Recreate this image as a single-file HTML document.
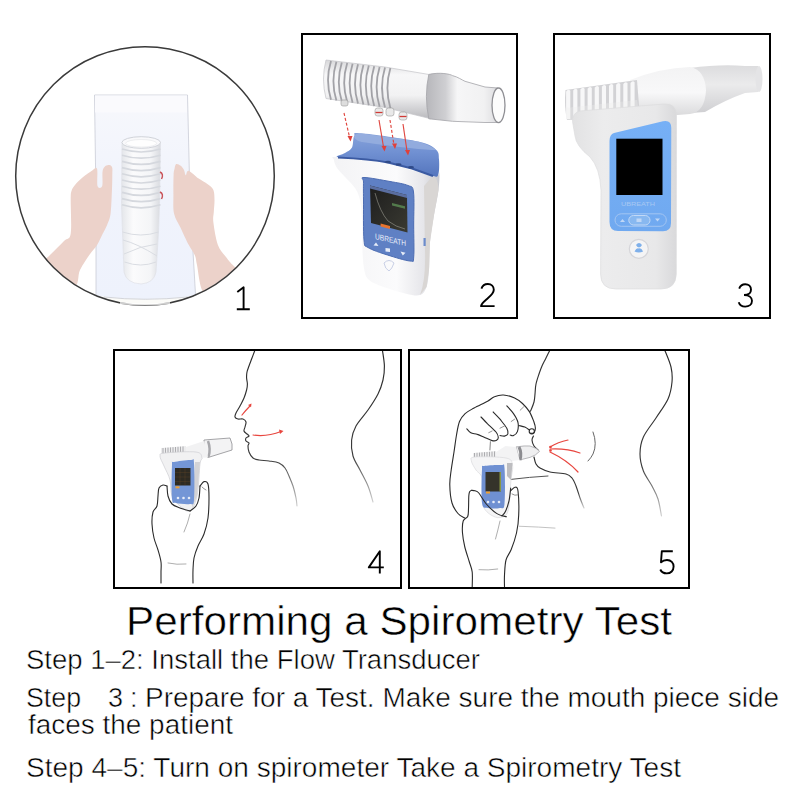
<!DOCTYPE html>
<html><head><meta charset="utf-8">
<style>
html,body{margin:0;padding:0;background:#fff;width:800px;height:800px;overflow:hidden}
svg{position:absolute;left:0;top:0}
text{font-family:"Liberation Sans",sans-serif;fill:#000;stroke:#fff;stroke-width:0.5px}
</style></head><body>
<svg width="800" height="800" viewBox="0 0 800 800">
<!-- PANEL 1 -->
<defs>
  <linearGradient id="paperg" x1="0" x2="0" y1="95" y2="300" gradientUnits="userSpaceOnUse"><stop offset="0" stop-color="#f7f8fc"/><stop offset="0.5" stop-color="#f0f3fc"/><stop offset="1" stop-color="#eef2fc"/></linearGradient>
  <clipPath id="c1"><circle cx="145" cy="176" r="129"/></clipPath>
  <linearGradient id="tubeg" x1="0" x2="1" y1="0" y2="0">
    <stop offset="0" stop-color="#e4e6ea"/><stop offset="0.3" stop-color="#fbfbfc"/><stop offset="0.75" stop-color="#f4f5f7"/><stop offset="1" stop-color="#d9dbe0"/>
  </linearGradient>
</defs>
<g clip-path="url(#c1)">
  <!-- paper -->
  <path d="M94.5 95 L187.5 95 L190 200 L197 320 L96 320 L96 200 Z" fill="url(#paperg)" stroke="#c9ccd6" stroke-width="0.8"/>
  <path d="M100 296 Q145 302 192 296 L200 320 L90 320 Z" fill="#fbfbf8"/>
  <path d="M104 297 Q145 301.5 188 297" fill="none" stroke="#c8cad2" stroke-width="0.8"/>
  <rect x="95" y="95.5" width="92" height="17" fill="#fafafd"/>
  <!-- transducer -->
  <path d="M122 142 L121.5 205 L122.5 232 L124 272 Q126 283 141 284 Q154 283 156 272 L158.5 232 L159.5 205 L160.5 142 Z" fill="url(#tubeg)" stroke="#dfe1e6" stroke-width="0.7"/>
  <g fill="none" stroke="#d5d8de" stroke-width="1.7"><path d="M122 149.0 Q141 155.0 160.5 149.0"/><path d="M122 155.2 Q141 161.2 160.5 155.2"/><path d="M122 161.4 Q141 167.4 160.5 161.4"/><path d="M122 167.6 Q141 173.6 160.5 167.6"/><path d="M122 173.8 Q141 179.8 160.5 173.8"/><path d="M122 180.0 Q141 186.0 160.5 180.0"/><path d="M122 186.2 Q141 192.2 160.5 186.2"/><path d="M122 192.4 Q141 198.4 160.5 192.4"/><path d="M122 198.6 Q141 204.6 160.5 198.6"/><path d="M122 204.8 Q141 210.8 160.5 204.8"/></g>
  <ellipse cx="141.2" cy="142.5" rx="19.3" ry="5.8" fill="#f9f9fb" stroke="#d0d3d9" stroke-width="1"/>
  <ellipse cx="141.2" cy="143.3" rx="15.5" ry="3.8" fill="#fefefe" stroke="#e2e4e8" stroke-width="0.6"/>
  <g fill="none" stroke="#d9dce2" stroke-width="1">
    <path d="M122.5 232 Q141 238 158.5 232"/>
    <path d="M123 240 Q138 244 157 256"/>
    <path d="M124 254 Q140 246 157 244"/>
    <path d="M124.5 262 Q141 268 156 262"/>
  </g>
  <path d="M160 172 q4 2 1.5 7" fill="none" stroke="#c9545a" stroke-width="1.4"/>
  <path d="M160 192 q4 2 1.5 7" fill="none" stroke="#c9545a" stroke-width="1.4"/>
  <!-- left hand -->
  <path d="M30.0 275.0 C33.3 267.5 44.3 260.7 50.0 255.0 C55.7 249.3 60.5 244.6 64.0 241.0 C67.5 237.4 69.6 240.5 70.7 233.7 C71.8 226.9 70.6 207.1 70.7 200.0 C70.8 192.9 70.8 193.4 71.5 191.0 C72.2 188.6 72.8 187.7 74.6 185.4 C76.4 183.2 79.5 180.0 82.5 177.5 C85.5 175.0 90.2 171.6 92.6 170.2 C95.0 168.8 96.3 166.4 97.1 169.0 C97.9 171.6 96.7 183.2 97.5 186.0 C98.3 188.8 101.4 188.3 102.2 186.0 C103.0 183.7 102.1 175.2 102.5 172.0 C102.9 168.8 103.5 168.2 104.5 167.0 C105.5 165.8 107.2 165.1 108.4 165.1 C109.7 165.1 111.3 165.3 112.0 167.0 C112.7 168.7 112.3 171.4 112.3 175.0 C112.3 178.6 112.3 182.3 112.0 188.7 C111.7 195.1 111.4 207.5 110.6 213.5 C109.8 219.5 108.5 221.3 107.2 224.7 C105.9 228.1 104.4 230.3 102.7 233.7 C101.0 237.1 99.3 241.4 97.1 245.0 C94.9 248.6 92.1 250.8 89.3 255.0 C86.5 259.2 82.9 264.2 80.0 270.0 C77.1 275.8 80.3 285.0 72.0 290.0 C63.7 295.0 37.0 302.5 30.0 300.0 C23.0 297.5 26.7 282.5 30.0 275.0 Z" fill="#ecd2ca"/>
  <!-- right hand -->
  <path d="M176.2 164.0 C177.2 163.5 179.4 164.7 180.7 165.7 C182.0 166.7 183.2 168.4 184.0 170.0 C184.8 171.6 185.0 175.1 185.8 175.2 C186.6 175.3 186.4 170.1 188.6 170.7 C190.8 171.3 195.5 176.3 198.7 178.6 C201.9 180.8 205.2 182.3 207.7 184.2 C210.1 186.1 212.3 187.3 213.4 189.9 C214.5 192.5 214.4 196.3 214.5 200.0 C214.6 203.7 214.0 208.2 213.8 212.0 C213.6 215.8 212.7 217.0 213.4 222.5 C214.1 228.0 215.8 239.2 217.9 245.0 C220.0 250.8 223.3 253.5 226.0 257.0 C228.7 260.5 230.0 262.4 234.0 266.2 C238.0 270.0 253.2 273.5 250.0 280.0 C246.8 286.5 223.0 303.2 215.0 305.0 C207.0 306.8 205.2 297.3 202.2 290.6 C199.2 283.9 198.2 270.9 197.0 265.0 C195.8 259.1 196.3 258.7 194.7 255.0 C193.1 251.3 189.8 247.2 187.5 242.7 C185.2 238.2 182.9 233.0 180.7 228.1 C178.4 223.2 175.2 219.1 174.0 213.5 C172.8 207.9 173.5 200.8 173.4 194.4 C173.3 188.0 173.4 179.3 173.6 175.0 C173.8 170.7 174.2 170.3 174.6 168.5 C175.0 166.7 175.2 164.5 176.2 164.0 Z" fill="#ecd2ca"/>
</g>
<circle cx="145" cy="176" r="129.3" fill="none" stroke="#3a3a3a" stroke-width="1.5"/>
<path d="M120 303 Q145 306 170 303" fill="none" stroke="#fff" stroke-width="2.2" opacity="0.75"/>

<!-- PANEL 2 -->
<defs>
  <linearGradient id="t2g" x1="0" x2="0" y1="0" y2="1">
    <stop offset="0" stop-color="#d8d8da"/><stop offset="0.25" stop-color="#f7f7f8"/><stop offset="0.6" stop-color="#f2f2f3"/><stop offset="1" stop-color="#b9b9bd"/>
  </linearGradient>
  <linearGradient id="mp2" x1="428" x2="498" y1="0" y2="0" gradientUnits="userSpaceOnUse">
    <stop offset="0" stop-color="#b9b9bd"/><stop offset="0.25" stop-color="#cfcfd2"/><stop offset="0.42" stop-color="#f6f6f7"/><stop offset="0.8" stop-color="#f1f1f2"/><stop offset="1" stop-color="#dcdcdf"/>
  </linearGradient>
  <linearGradient id="cr2" x1="0" x2="0" y1="0" y2="1">
    <stop offset="0" stop-color="#88a3da"/><stop offset="0.45" stop-color="#7090d2"/><stop offset="1" stop-color="#5475bd"/>
  </linearGradient>
  <linearGradient id="scr2" x1="0" x2="1" y1="0" y2="1">
    <stop offset="0" stop-color="#1d1d1d"/><stop offset="1" stop-color="#3a3a32"/>
  </linearGradient>
  <linearGradient id="body2" x1="0" x2="1" y1="0" y2="0">
    <stop offset="0" stop-color="#f3f3f5"/><stop offset="0.6" stop-color="#fbfbfc"/><stop offset="0.85" stop-color="#e6e6ea"/><stop offset="1" stop-color="#c9cad0"/>
  </linearGradient>
</defs>
<!-- tube: bellows + smooth + mouthpiece -->
<path d="M326 60 L385 67 L429 74.5 L431 118.8 L385 107.5 L326 98.5 Q321 79 326 60 Z" fill="url(#t2g)" stroke="#c4c4c8" stroke-width="0.7"/>
<path d="M428.8 74.4 C440 72 450 74 452.5 75.6 C458 77 462 80 465 81.3 L485 87 L498 88 L498 122.5 L485 122.5 L452.5 121.3 L428.8 118.8 Q424 96 428.8 74.4 Z" fill="url(#mp2)" stroke="#a3a3a8" stroke-width="0.8"/>
<ellipse cx="498.5" cy="105.3" rx="6.5" ry="17.3" fill="#fcfcfc" stroke="#8f8f94" stroke-width="1.3"/>
<g fill="none" stroke="#a2a2a7" stroke-width="1.8">
  <path d="M331.0 61.1 Q325.0 80.4 331.0 99.7"/>
  <path d="M336.4 61.7 Q330.4 81.1 336.4 100.5"/>
  <path d="M341.8 62.4 Q335.8 81.8 341.8 101.3"/>
  <path d="M347.2 63.0 Q341.2 82.5 347.2 102.1"/>
  <path d="M352.6 63.7 Q346.6 83.2 352.6 102.8"/>
  <path d="M358.0 64.3 Q352.0 84.0 358.0 103.6"/>
  <path d="M363.4 64.9 Q357.4 84.7 363.4 104.4"/>
  <path d="M368.8 65.6 Q362.8 85.4 368.8 105.2"/>
  <path d="M374.2 66.2 Q368.2 86.1 374.2 105.9"/>
  <path d="M379.6 66.9 Q373.6 86.8 379.6 106.7"/>
  <path d="M385.0 67.5 Q379.0 87.5 385.0 107.5"/>
  <path d="M390.4 68.1 Q384.4 88.2 390.4 108.3"/>
</g>
<!-- connectors -->
<g stroke="#999" stroke-width="0.6">
<rect x="341" y="100" width="7" height="6" rx="2" fill="#ddd"/>
<rect x="375" y="108" width="8" height="8" rx="2.5" fill="#e9e9e9"/>
<rect x="386" y="108" width="8" height="8" rx="2.5" fill="#e9e9e9"/>
<rect x="399" y="112" width="8" height="8" rx="2.5" fill="#e9e9e9"/>
</g>
<g fill="none" stroke="#d03a35" stroke-width="1.3">
<path d="M375.5 112.5 h7"/><path d="M399.5 116.5 h7"/>
</g>
<!-- device body -->
<path d="M334.0 160.0 C334.0 158.2 328.5 156.5 337.0 157.0 C345.5 157.5 369.0 159.8 385.0 163.0 C401.0 166.2 424.0 174.5 433.0 176.0 C442.0 177.5 438.1 169.7 439.0 172.0 C439.9 174.3 439.3 182.8 438.5 190.0 C437.7 197.2 435.4 206.3 434.0 215.0 C432.6 223.7 430.8 232.8 430.0 242.0 C429.2 251.2 429.6 262.5 429.0 270.0 C428.4 277.5 428.0 282.8 426.5 287.0 C425.0 291.2 423.4 293.9 420.0 295.0 C416.6 296.1 412.5 295.2 406.0 293.7 C399.5 292.2 387.3 288.4 381.0 286.0 C374.7 283.6 370.8 282.0 368.0 279.0 C365.2 276.0 364.9 272.8 364.0 268.0 C363.1 263.2 362.8 258.0 362.5 250.0 C362.2 242.0 362.4 228.3 362.0 220.0 C361.6 211.7 361.2 205.3 360.0 200.0 C358.8 194.7 357.5 191.8 355.0 188.0 C352.5 184.2 348.0 180.3 345.0 177.0 C342.0 173.7 338.8 170.8 337.0 168.0 C335.2 165.2 334.0 161.8 334.0 160.0 Z" fill="url(#body2)"/>
<path d="M424 186 L431 178 Q438 174 438.5 190 L434 215 L430 242 L429 270 L426.5 287 L420 295 Q426 280 425 250 Z" fill="#d9d6d4"/>
<rect x="423.5" y="238" width="2.2" height="8" fill="#6c8ccc"/>
<path d="M337.0 157.0 C334.8 156.1 342.5 154.6 345.0 153.0 C347.5 151.4 350.5 150.3 352.0 147.5 C353.5 144.7 352.7 138.4 354.2 136.0 C355.7 133.6 350.4 132.4 361.0 133.3 C371.6 134.2 405.5 138.8 418.0 141.5 C430.5 144.2 432.5 146.7 436.0 149.7 C439.5 152.7 438.6 155.4 439.0 159.5 C439.4 163.6 439.3 171.8 438.3 174.5 C437.3 177.2 437.4 177.0 433.0 176.0 C428.6 175.0 419.5 170.8 412.0 168.5 C404.5 166.2 397.0 164.1 388.0 162.5 C379.0 160.9 366.5 159.6 358.0 158.7 C349.5 157.8 339.2 157.9 337.0 157.0 Z" fill="url(#cr2)"/>
<path d="M354 137 Q356 132 362 133.5 L418 141.5 Q432 146 436 150 Q420 150 362 142 Q356 141 354 137 Z" fill="#98b0e0" opacity="0.8"/>
<path d="M338 157.5 Q370 159 388 162.5 L412 168.5 L433 176" fill="none" stroke="#3b5aa2" stroke-width="2.2"/>
<g fill="#2f4a88"><ellipse cx="388" cy="162" rx="3" ry="1.3"/><ellipse cx="398.5" cy="164.5" rx="3" ry="1.3"/><ellipse cx="411" cy="167.3" rx="3" ry="1.3"/></g>
<path d="M364.0 177.5 C368.4 177.4 382.7 180.2 390.0 181.5 C397.3 182.8 404.1 183.8 408.0 185.5 C411.9 187.2 412.6 185.4 413.5 192.0 C414.4 198.6 413.7 214.2 413.7 225.0 C413.7 235.8 414.3 251.0 413.7 257.0 C413.1 263.0 414.4 261.3 410.0 261.0 C405.6 260.7 394.5 257.2 387.5 255.0 C380.5 252.8 371.9 250.0 368.0 247.5 C364.1 245.0 364.8 247.9 364.0 240.0 C363.2 232.1 363.6 209.7 363.5 200.0 C363.4 190.3 363.4 185.8 363.5 182.0 C363.6 178.2 359.6 177.6 364.0 177.5 Z" fill="#5f80c4" stroke="#4c6cb2" stroke-width="1"/>
<path d="M370 185.5 L407 195 L407.5 232.5 L371 223 Z" fill="url(#scr2)"/>
<path d="M370 185.5 L407 195 L407 198 L370 188.5 Z" fill="#5a6ea0"/>
<path d="M375 193 Q380 212 388 221 Q396 227 405 229" fill="none" stroke="#9a9a90" stroke-width="0.6"/>
<path d="M392 203 l13 3.3 v2.5 l-13 -3.3z" fill="#5c8f55" opacity="0.8"/>
<path d="M380.6 223.5 L390 226 L390 229 L380.6 226.5 Z" fill="#e8742e"/>
<text transform="translate(375 239) skewY(13)" font-size="8" style="fill:#e8eef9;stroke:none" textLength="31" lengthAdjust="spacingAndGlyphs">UBREATH</text>
<g fill="#e6ecf8"><path d="M373.5 245.5 l2.5 -3 l2.5 3.6z"/><path d="M385.5 248 l4.5 0.5 l0 3.5 l-4.5 -0.5z"/><path d="M400.5 251.5 l5 1.2 l-2.7 2.8z"/></g>
<path d="M384 263 q5 -5 10 0 q-2 6 -5 8 q-4 -2 -5 -8z" fill="none" stroke="#c3cbe3" stroke-width="0.9"/>
<!-- red arrows -->
<g fill="none" stroke="#e0463f" stroke-width="1.15">
<path d="M344 113 L349.5 137" stroke-dasharray="3 2"/>
<path d="M379 120 L383.5 147"/>
<path d="M390 120 L394 145" stroke-dasharray="3 2"/>
<path d="M403 124 L407 151"/>
</g>
<g fill="#e0403a">
<path d="M347.5 136 l5 0 l-2 5.5 z"/><path d="M381.5 146 l5 0 l-2 5.5 z"/><path d="M392 143.5 l5 0 l-2 5.5 z"/><path d="M405 150 l5 0 l-2 5.5 z"/>
</g>

<!-- PANEL 3 -->
<defs>
  <linearGradient id="b3" x1="0" x2="1" y1="0" y2="0">
    <stop offset="0" stop-color="#e2e2e3"/><stop offset="0.3" stop-color="#ececed"/><stop offset="0.8" stop-color="#e8e8e9"/><stop offset="1" stop-color="#d9d9db"/>
  </linearGradient>
  <linearGradient id="tb3" x1="0" x2="0" y1="0" y2="1">
    <stop offset="0" stop-color="#f3f3f4"/><stop offset="0.5" stop-color="#f8f8f9"/><stop offset="1" stop-color="#d7d7d9"/>
  </linearGradient>
  <linearGradient id="mp3" x1="0" x2="0" y1="0" y2="1">
    <stop offset="0" stop-color="#dcdcde"/><stop offset="0.4" stop-color="#ebebec"/><stop offset="1" stop-color="#cfcfd2"/>
  </linearGradient>
  <linearGradient id="bl3" x1="0" x2="0" y1="0" y2="1">
    <stop offset="0" stop-color="#76b0f6"/><stop offset="1" stop-color="#70a9f0"/>
  </linearGradient>
</defs>
<!-- mouthpiece -->
<path d="M690 68 Q720 64 745 66 L758 66 Q763 79 758 92 L745 93 Q725 100 705 112 L690 113 Z" fill="url(#mp3)"/>
<ellipse cx="759" cy="79" rx="3.5" ry="13" fill="#e4e4e6"/>
<!-- smooth tube -->
<path d="M630 80 Q660 68 690 67 Q705 70 706 90 Q705 112 690 114 L640 118 Z" fill="url(#tb3)"/>
<!-- bellows -->
<path d="M565.5 90 L637 80 L640 118 L567 120 Q564 106 565.5 90 Z" fill="#d2d2d5"/>
<path d="M566.1 91.5 Q568.1 88.5 570.3 90.7 L570.3 119 L566.1 119 Z" fill="#f7f7f8"/>
<path d="M573.2 90.5 Q575.2 87.5 577.4 89.8 L577.4 119 L573.2 119 Z" fill="#f7f7f8"/>
<path d="M580.4 89.6 Q582.4 86.6 584.6 88.8 L584.6 119 L580.4 119 Z" fill="#f7f7f8"/>
<path d="M587.6 88.7 Q589.6 85.7 591.8 87.9 L591.8 119 L587.6 119 Z" fill="#f7f7f8"/>
<path d="M594.7 87.7 Q596.7 84.7 598.9 86.9 L598.9 119 L594.7 119 Z" fill="#f7f7f8"/>
<path d="M601.9 86.8 Q603.9 83.8 606.0 86.0 L606.0 119 L601.9 119 Z" fill="#f7f7f8"/>
<path d="M609.0 85.8 Q611.0 82.8 613.2 85.0 L613.2 119 L609.0 119 Z" fill="#f7f7f8"/>
<path d="M616.1 84.8 Q618.1 81.8 620.3 84.0 L620.3 119 L616.1 119 Z" fill="#f7f7f8"/>
<path d="M623.3 83.9 Q625.3 80.9 627.5 83.1 L627.5 119 L623.3 119 Z" fill="#f7f7f8"/>
<path d="M630.5 83.0 Q632.5 80.0 634.6 82.2 L634.6 119 L630.5 119 Z" fill="#f7f7f8"/>
<path d="M565.5 108 L637 100 L640 118 L567 120 Z" fill="#ededee" opacity="0.35"/>
<!-- body -->
<path d="M572.5 121.5 Q572 113 580 111 L664 104 Q676.5 103 676.5 116 L676.3 274 Q676 289 661 289 L616 289 Q600.6 289 600.6 274 L601 190 Q600 168 590 157 Q576 146 575 136 Z" fill="url(#b3)" stroke="#dcdcde" stroke-width="0.7"/>
<!-- blue panel -->
<path d="M614 133 L663 121.3 Q671.3 119.5 671.3 128 L671 223 Q671 231.3 663 231.3 L618 231 Q609.5 231 609.5 222 L609.5 141 Q609.5 134.5 614 133 Z" fill="url(#bl3)"/>
<rect x="616.3" y="138.7" width="46.2" height="56.3" fill="#000"/>
<text x="621" y="206" font-size="6" style="fill:#a8c8f2;stroke:none" textLength="34" lengthAdjust="spacingAndGlyphs">UBREATH</text>
<rect x="615" y="213.8" width="51.3" height="12.5" rx="6.2" fill="none" stroke="#a3c5f2" stroke-width="1"/>
<rect x="628.8" y="215.5" width="21.2" height="9.5" rx="4.7" fill="#88b8f0" stroke="#c2d9f7" stroke-width="1"/>
<g fill="#c0d7f6"><path d="M620 222 l2.5 -3 l2.5 3z"/><path d="M655 218.5 l2.5 3 l2.5 -3z"/><rect x="636.5" y="218.5" width="5" height="3.5"/></g>
<circle cx="638.8" cy="248.8" r="9.5" fill="#f4f4f5" stroke="#d5d5d9" stroke-width="1.2"/>
<path d="M636 245 q3 -4 6 0 q-1 2 -3 2.5 q-2 -0.5 -3 -2.5z M634.5 251.5 q2 -4 4.3 -3 q2.3 -1 4.3 3 q-4.3 2 -8.6 0z" fill="#7fb0ea"/>

<!-- PANEL 4 -->
<defs>
  <linearGradient id="fade4" x1="0" x2="0" y1="0" y2="1">
    <stop offset="0" stop-color="#2a2a2a"/><stop offset="0.7" stop-color="#3a3a3a"/><stop offset="1" stop-color="#d0d0d0"/>
  </linearGradient>
</defs>
<g fill="none" stroke="#333" stroke-width="1.15" stroke-linecap="round" stroke-linejoin="round">
  <!-- face -->
  <path d="M255.0 350.0 C254.5 351.3 253.0 355.3 252.0 358.0 C251.0 360.7 249.8 363.7 249.0 366.0 C248.2 368.3 247.4 370.0 247.0 372.0 C246.6 374.0 246.5 376.0 246.6 378.0 C246.7 380.0 247.4 382.0 247.4 384.0 C247.4 386.0 247.2 387.7 246.6 390.0 C246.0 392.3 245.1 395.3 244.0 398.0 C242.9 400.7 241.3 403.5 240.0 406.0 C238.7 408.5 236.8 411.2 236.0 413.0 C235.2 414.8 234.7 416.0 235.0 417.0 C235.3 418.0 236.7 418.7 238.0 419.0 C239.3 419.3 241.7 418.5 243.0 419.0 C244.3 419.5 245.7 420.7 246.0 422.0 C246.3 423.3 245.3 425.5 245.0 427.0 C244.7 428.5 243.7 429.8 244.0 431.0 C244.3 432.2 246.2 433.2 247.0 434.0 C247.8 434.8 249.2 435.3 249.0 436.0 C248.8 436.7 246.5 437.2 246.0 438.0 C245.5 438.8 245.5 440.2 246.0 441.0 C246.5 441.8 248.7 442.2 249.0 443.0 C249.3 443.8 248.0 444.5 248.0 446.0 C248.0 447.5 248.2 450.0 249.0 452.0 C249.8 454.0 251.3 456.7 253.0 458.0 C254.7 459.3 256.3 459.5 259.0 460.0 C261.7 460.5 265.7 460.5 269.0 461.0 C272.3 461.5 276.3 461.8 279.0 463.0 C281.7 464.2 283.3 465.8 285.0 468.0 C286.7 470.2 287.7 473.0 289.0 476.0 C290.3 479.0 291.8 482.3 293.0 486.0 C294.2 489.7 295.3 494.7 296.0 498.0 C296.7 501.3 296.8 504.7 297.0 506.0" stroke="url(#fade4)"/>
  <!-- back of head -->
  <path d="M382.4 350.0 C382.7 352.7 384.3 361.0 384.4 366.0 C384.5 371.0 384.1 375.3 383.0 380.0 C381.9 384.7 380.5 389.0 378.0 394.0 C375.5 399.0 371.7 404.7 368.0 410.0 C364.3 415.3 358.7 421.0 356.0 426.0 C353.3 431.0 352.1 435.0 351.6 440.0 C351.1 445.0 351.6 451.0 353.0 456.0 C354.4 461.0 357.5 465.0 360.0 470.0 C362.5 475.0 365.8 480.7 368.0 486.0 C370.2 491.3 372.2 499.3 373.0 502.0" stroke="url(#fade4)"/>
</g>
<!-- red arrows -->
<g fill="none" stroke="#e8463f" stroke-width="1.2" stroke-linecap="round">
  <path d="M242 415 Q246 410 249.5 406.5"/>
  <path d="M253 435 Q267 437 281 431.5"/>
</g>
<g fill="#e8463f"><path d="M248 405 l3.5 -1.5 l-0.5 3.8z"/><path d="M279 429.5 l4.5 1.5 l-3.5 3z"/></g>
<!-- device -->
<path d="M204 440 L230 438 Q233 444 232 450 L208 457.5 Q202 456 204 440 Z" fill="#f3f3f4" stroke="#8e8e92" stroke-width="0.8"/>
<path d="M208 441 Q211 449 208.5 457" fill="none" stroke="#a8a8ac" stroke-width="2.5"/>
<path d="M186 447 L204 441 L208 457.5 L186 458 Z" fill="#f2f2f3"/>
<path d="M161 448 L186 446 L186 456 L161 457 Z" fill="#ededee"/>
<g stroke="#9a9a9e" stroke-width="0.8"><path d="M163 448 v8"/><path d="M165.5 447.8 v8"/><path d="M168 447.6 v8"/><path d="M170.5 447.4 v8"/><path d="M173 447.2 v8"/><path d="M175.5 447 v8"/><path d="M178 446.8 v8"/><path d="M180.5 446.6 v8"/><path d="M183 446.4 v8"/></g>
<path d="M160.0 456.0 C159.8 458.2 162.3 462.0 164.0 466.0 C165.7 470.0 168.7 475.0 170.0 480.0 C171.3 485.0 170.3 491.7 172.0 496.0 C173.7 500.3 177.0 503.5 180.0 506.0 C183.0 508.5 187.2 512.7 190.0 511.0 C192.8 509.3 195.3 503.8 197.0 496.0 C198.7 488.2 199.2 470.3 200.0 464.0 C200.8 457.7 202.7 460.0 202.0 458.0 C201.3 456.0 202.2 452.8 196.0 452.0 C189.8 451.2 171.0 452.3 165.0 453.0 C159.0 453.7 160.2 453.8 160.0 456.0 Z" fill="#f1f1f2" stroke="#cfcfd2" stroke-width="0.7"/>
<path d="M195 462 L200 462 L197 496 L192 508 Z" fill="#d3d3d6"/>
<path d="M174.0 462.0 C177.2 461.2 187.7 459.8 191.0 460.0 C194.3 460.2 193.5 456.3 194.0 463.0 C194.5 469.7 194.7 493.2 194.0 500.0 C193.3 506.8 193.0 503.5 190.0 504.0 C187.0 504.5 179.0 503.8 176.0 503.0 C173.0 502.2 172.7 505.3 172.0 499.0 C171.3 492.7 171.7 471.2 172.0 465.0 C172.3 458.8 170.8 462.8 174.0 462.0 Z" fill="#7496d6"/>
<rect x="175" y="468" width="15.5" height="17.5" fill="#2d2a22"/>
<g stroke="#8a5a2a" stroke-width="0.4" opacity="0.5"><path d="M175 472.5 h15.5"/><path d="M175 477 h15.5"/><path d="M175 481.5 h15.5"/><path d="M180 468 v17.5"/><path d="M185 468 v17.5"/></g>
<rect x="175.5" y="486.3" width="4" height="2" fill="#f0a030"/>
<g fill="#e6ecf8"><circle cx="178" cy="498" r="1.3"/><circle cx="183.5" cy="498" r="1.3"/><circle cx="189" cy="498" r="1.3"/></g>
<!-- hand -->
<g fill="none" stroke="#2a2a2a" stroke-width="1.1" stroke-linecap="round" stroke-linejoin="round">
  <path d="M200.0 486.0 C200.7 485.3 202.7 481.9 204.0 481.6 C205.3 481.3 207.2 481.3 208.0 484.0 C208.8 486.7 209.0 492.3 209.0 498.0 C209.0 503.7 208.8 512.0 208.0 518.0 C207.2 524.0 205.7 529.3 204.0 534.0 C202.3 538.7 199.7 542.0 198.0 546.0 C196.3 550.0 194.8 554.0 194.0 558.0 C193.2 562.0 193.2 565.8 193.0 570.0 C192.8 574.2 193.0 580.8 193.0 583.0"/>
  <path d="M200.0 486.0 C199.8 488.0 199.7 494.7 199.0 498.0 C198.3 501.3 197.5 503.8 196.0 506.0 C194.5 508.2 191.0 510.2 190.0 511.0"/>
  <path d="M167.0 486.0 C166.3 485.8 164.3 484.7 163.0 485.0 C161.7 485.3 159.8 486.2 159.0 488.0 C158.2 489.8 158.3 493.0 158.0 496.0 C157.7 499.0 157.8 503.3 157.0 506.0 C156.2 508.7 153.8 509.0 153.0 512.0 C152.2 515.0 151.8 519.7 152.0 524.0 C152.2 528.3 153.0 533.7 154.0 538.0 C155.0 542.3 156.8 546.0 158.0 550.0 C159.2 554.0 160.5 558.3 161.0 562.0 C161.5 565.7 161.0 568.5 161.0 572.0 C161.0 575.5 161.0 581.2 161.0 583.0"/>
  <path d="M167.0 486.0 C167.2 487.7 167.2 493.0 168.0 496.0 C168.8 499.0 170.0 502.0 172.0 504.0 C174.0 506.0 177.0 506.8 180.0 508.0 C183.0 509.2 188.3 510.5 190.0 511.0"/>
  <path d="M202 487 Q204 489 206 490" stroke="#777" stroke-width="0.8"/>
  <path d="M190 514 Q188 523 184 532" stroke="#999" stroke-width="0.8"/>
  <path d="M168 563 Q177 565 186 564" stroke="#999" stroke-width="0.8"/>
</g>

<!-- PANEL 5 -->
<g fill="none" stroke="#333" stroke-width="1.15" stroke-linecap="round" stroke-linejoin="round">
  <path d="M550.0 350.0 C549.3 351.3 547.3 355.3 546.0 358.0 C544.7 360.7 543.2 363.3 542.0 366.0 C540.8 368.7 540.0 371.0 539.0 374.0 C538.0 377.0 536.7 380.7 536.0 384.0 C535.3 387.3 535.3 391.0 535.0 394.0 C534.7 397.0 534.7 399.3 534.0 402.0 C533.3 404.7 531.7 408.4 531.0 410.0 C530.3 411.6 530.0 411.2 529.8 411.4"/>
  <path d="M533.5 436.0 C533.2 436.7 531.9 438.3 532.0 440.0 C532.1 441.7 533.0 444.3 534.0 446.0 C535.0 447.7 537.3 449.3 538.0 450.0"/>
  <path d="M534.0 457.0 C534.3 458.2 535.0 462.2 536.0 464.0 C537.0 465.8 537.7 466.7 540.0 468.0 C542.3 469.3 545.7 471.0 550.0 472.0 C554.3 473.0 562.3 473.0 566.0 474.0 C569.7 475.0 570.3 476.0 572.0 478.0 C573.7 480.0 574.7 482.7 576.0 486.0 C577.3 489.3 578.7 494.3 580.0 498.0 C581.3 501.7 583.3 506.3 584.0 508.0" stroke="url(#fade4)"/>
  <path d="M593 432 Q597.5 444 593 454 Q591 458 588 461" stroke="#666" stroke-width="1"/>
  <path d="M664.7 350.0 C665.8 352.8 669.8 361.7 671.0 367.0 C672.2 372.3 672.5 376.7 672.0 382.0 C671.5 387.3 670.7 393.0 668.0 399.0 C665.3 405.0 660.1 411.7 656.0 418.0 C651.9 424.3 646.1 431.0 643.4 437.0 C640.7 443.0 640.0 448.3 640.0 454.0 C640.0 459.7 641.4 465.7 643.4 471.0 C645.4 476.3 649.6 481.3 652.0 486.0 C654.4 490.7 656.4 494.0 658.0 499.0 C659.6 504.0 660.9 513.2 661.5 516.0" stroke="url(#fade4)"/>
  <path d="M510 479.5 Q530 477 548 476" stroke="#555" stroke-width="1"/>
  <path d="M519.4 526.25 Q540 527 555 528.1" stroke="#bbb" stroke-width="0.9"/>
</g>
<!-- red arrows 5 -->
<g fill="none" stroke="#e8463f" stroke-width="1.2" stroke-linecap="round">
  <path d="M550 447 Q558 442 568 440"/>
  <path d="M550 449 Q566 448 580 453"/>
  <path d="M550 452 Q567 460 578 472"/>
</g>
<g fill="#e8463f"><circle cx="550.5" cy="447" r="1.3"/><circle cx="550.5" cy="450.5" r="1.3"/></g>
<!-- device 5 -->
<path d="M516 446.9 Q525 445.5 530 446 Q537 448 539.6 451.3 Q536 455.5 530 457.4 L519.5 460 Z" fill="#efeff0" stroke="#9c9ca0" stroke-width="0.7"/>
<path d="M519 447 Q522 453 520 460" fill="none" stroke="#8c8c90" stroke-width="3"/>
<path d="M496 452 L505.5 446 L516 446.9 L519.5 460 L505 462 L496 462 Z" fill="#f3f3f4"/>
<path d="M473 453 L496 451 L496 461.7 L473 461 Z" fill="#eeeeef"/>
<g stroke="#9a9a9e" stroke-width="0.8"><path d="M474.5 453 v8"/><path d="M477 452.8 v8"/><path d="M479.5 452.6 v8"/><path d="M482 452.4 v8"/><path d="M484.5 452.2 v8"/><path d="M487 452 v8"/><path d="M489.5 451.8 v8"/><path d="M492 451.6 v8"/><path d="M494.5 451.4 v8"/></g>
<path d="M471.4 461.0 C471.6 463.2 474.2 467.2 476.0 470.0 C477.8 472.8 480.8 473.0 482.0 478.0 C483.2 483.0 482.7 495.0 483.0 500.0 C483.3 505.0 482.7 505.5 484.0 508.0 C485.3 510.5 488.3 513.4 491.0 515.0 C493.7 516.6 497.2 518.2 500.0 517.5 C502.8 516.8 506.2 517.2 508.0 511.0 C509.8 504.8 510.2 487.7 511.0 480.0 C511.8 472.3 513.3 468.7 512.5 465.0 C511.7 461.3 512.2 459.3 506.0 458.0 C499.8 456.7 480.8 456.5 475.0 457.0 C469.2 457.5 471.2 458.8 471.4 461.0 Z" fill="#f5f5f6" stroke="#dadadd" stroke-width="0.7"/>
<path d="M507 463 L512.5 463 L511 480 L507 476 Z" fill="#bdbdc0"/>
<path d="M484.0 466.0 C487.2 465.3 497.6 464.7 501.0 465.0 C504.4 465.3 503.9 461.5 504.5 468.0 C505.1 474.5 505.2 497.3 504.5 504.0 C503.8 510.7 502.8 507.3 500.0 508.0 C497.2 508.7 491.0 508.8 488.0 508.0 C485.0 507.2 483.0 509.5 482.0 503.0 C481.0 496.5 481.7 475.2 482.0 469.0 C482.3 462.8 480.8 466.7 484.0 466.0 Z" fill="#6f90d2"/>
<rect x="485.5" y="472" width="15.5" height="19.5" fill="#35332a"/>
<rect x="499.5" y="472" width="1.5" height="19.5" fill="#9fb04a" opacity="0.8"/>
<rect x="486" y="491.5" width="4" height="2" fill="#f0a030"/>
<g fill="#e6ecf8"><circle cx="488" cy="502" r="1.3"/><circle cx="493.5" cy="502" r="1.3"/><circle cx="499" cy="502" r="1.3"/></g>
<!-- top fist -->
<g fill="none" stroke="#2a2a2a" stroke-width="1.1" stroke-linecap="round" stroke-linejoin="round">
  <path d="M464.7 518.0 C463.6 517.2 460.1 516.0 458.0 513.5 C455.9 511.0 453.4 507.8 452.0 503.0 C450.6 498.2 449.9 490.5 449.8 485.0 C449.6 479.5 450.5 475.5 451.2 470.0 C451.9 464.5 453.1 457.8 454.0 452.0 C454.9 446.2 455.6 440.1 456.5 435.0 C457.4 429.9 458.1 425.1 459.5 421.5 C460.9 417.9 462.7 415.9 465.1 413.6 C467.5 411.4 470.4 410.1 474.1 408.0 C477.9 405.9 484.2 403.1 487.6 401.2 C491.0 399.4 491.8 397.8 494.4 396.8 C497.0 395.7 500.0 394.8 503.4 395.0 C506.8 395.2 511.4 396.5 514.6 397.9 C517.8 399.3 520.1 401.2 522.5 403.5 C524.9 405.8 527.4 408.4 529.2 411.4 C531.1 414.4 532.7 418.7 533.8 421.5 C534.8 424.3 535.4 426.4 535.4 428.2 C535.4 430.1 534.6 431.9 533.8 432.8 C532.9 433.6 531.0 433.2 530.4 433.3"/>
  <path d="M466.8 428.8 C467.5 429.5 469.0 431.8 470.8 432.8 C472.5 433.7 475.2 433.6 477.5 434.4 C479.8 435.1 481.8 436.2 484.2 437.2 C486.7 438.3 490.0 440.1 492.1 440.6 C494.2 441.1 495.6 440.8 496.6 440.2 C497.6 439.6 498.4 438.6 498.3 437.2 C498.2 435.9 497.8 434.2 496.0 432.0 C494.2 429.8 490.1 426.2 487.6 423.8 C485.1 421.2 482.1 418.1 481.0 417.0"/>
  <path d="M493.2 412.0 C494.4 413.2 497.8 416.5 500.0 419.2 C502.2 422.0 505.4 425.8 506.8 428.2 C508.1 430.7 508.3 432.6 507.9 433.9 C507.5 435.2 505.8 435.8 504.5 436.1 C503.2 436.4 500.8 435.6 500.0 435.5"/>
  <path d="M506.8 405.8 C507.9 407.1 511.6 410.8 513.5 413.6 C515.4 416.4 517.4 419.6 518.0 422.6 C518.6 425.6 518.1 429.4 517.4 431.6 C516.6 433.8 514.7 435.0 513.5 435.6 C512.3 436.2 510.7 435.1 510.1 435.0"/>
  <path d="M519.0 425.5 C520.0 425.8 523.0 426.4 524.8 427.1 C526.5 427.9 528.7 429.5 529.5 430.0"/>
  <circle cx="531.8" cy="431.3" r="2.6"/>
  <g stroke="#888" stroke-width="0.9"><path d="M488.7 432.7 L492.1 431"/><path d="M500 428.2 L504.5 426"/><path d="M511.2 421.5 L514.6 419.2"/><path d="M520.2 410.2 L523.6 406.9"/></g>
  <path d="M490.4 441.7 L489.9 450" stroke="#777" stroke-width="0.9"/>
</g>
<!-- bottom hand -->
<g fill="none" stroke="#2a2a2a" stroke-width="1.1" stroke-linecap="round" stroke-linejoin="round">
  
  <path d="M510.5 491.0 C511.2 490.4 513.8 487.2 515.0 487.2 C516.2 487.2 517.4 486.4 518.0 491.0 C518.6 495.6 519.0 508.0 518.7 515.0 C518.5 522.0 517.8 527.2 516.5 533.0 C515.2 538.8 513.0 545.0 511.2 549.5 C509.4 554.0 507.1 555.8 506.0 560.0 C504.9 564.2 504.8 570.5 504.5 575.0 C504.2 579.5 504.5 585.0 504.5 587.0"/>
  <path d="M510.7 488.0 C510.4 490.1 509.9 497.0 509.0 500.9 C508.1 504.8 506.6 509.0 505.4 511.5 C504.2 514.0 502.6 515.2 502.0 516.0"/>
  <path d="M471.4 490.3 C471.1 490.6 469.9 491.1 469.5 492.0 C469.1 492.9 469.0 493.2 468.8 496.0 C468.6 498.8 468.7 505.6 468.5 509.0 C468.3 512.4 468.6 514.5 467.7 516.5 C466.8 518.5 464.1 518.2 463.2 521.0 C462.3 523.8 462.2 528.8 462.5 533.0 C462.8 537.2 463.6 541.8 464.7 546.5 C465.8 551.2 467.9 557.2 469.2 561.5 C470.4 565.8 471.7 567.8 472.2 572.0 C472.7 576.2 472.2 584.5 472.2 587.0"/>
  <path d="M471.4 490.3 C472.0 490.4 473.8 490.4 475.0 490.8 C476.2 491.2 476.9 490.8 478.8 493.0 C480.7 495.2 483.3 500.6 486.3 504.0 C489.3 507.4 493.5 511.5 496.9 513.6 C500.2 515.7 504.8 516.3 506.4 516.8"/>
  <path d="M512 494 Q515 496 517.5 495" stroke="#777" stroke-width="0.8"/>
  <path d="M500 521 Q498 530 495.5 539" stroke="#999" stroke-width="0.8"/>
  <path d="M479 569.7 Q488 570.5 497.7 569" stroke="#999" stroke-width="0.8"/>
</g>

<!-- digits -->
<g fill="none" stroke="#000" stroke-width="1.9" stroke-linecap="butt" stroke-linejoin="round">
  <path d="M237.3 292 L243.6 287.3 L243.6 309.2 M236.8 309.2 L249.8 309.2"/>
  <path d="M481.4 288.6 C482.5 285.5 485 284 487.8 284 C491.5 284 493.8 286.6 493.8 289.8 C493.8 293.5 490.5 296 487 299 C484 301.6 481.5 303.5 481 306.1 L494.6 306.1"/>
  <path d="M739.2 288.6 C740.3 285.6 742.5 284.2 745.2 284.2 C748.8 284.2 751 286.4 751 289.4 C751 292.8 748.3 295 744 295 M744 295 C749 295 752 297.5 752 300.8 C752 304.3 749 306.6 745.2 306.6 C741.8 306.6 739.5 304.8 738.7 302.3"/>
  <path d="M383.8 567.4 L368.8 567.4 L379.8 551.3 L379.8 573.6"/>
  <path d="M672.8 551.3 L661.8 551.3 L661 562.3 C662.5 560.8 664.8 560 667 560 C671 560 673.6 563 673.6 566.6 C673.6 570.5 670.8 573.4 666.8 573.4 C663.6 573.4 661.3 571.8 660.3 569.5"/>
</g>

<!-- boxes -->
<rect x="302" y="34" width="215" height="284" fill="none" stroke="#000" stroke-width="2"/>
<rect x="554" y="34" width="216" height="284" fill="none" stroke="#000" stroke-width="2"/>
<rect x="114" y="350" width="287" height="238" fill="none" stroke="#000" stroke-width="2"/>
<rect x="409" y="350" width="280" height="238" fill="none" stroke="#000" stroke-width="2"/>
<!-- text -->
<text x="126" y="635" font-size="40" textLength="546" lengthAdjust="spacingAndGlyphs">Performing a Spirometry Test</text>
<text x="26" y="669" font-size="27" textLength="454" lengthAdjust="spacingAndGlyphs">Step 1–2: Install the Flow Transducer</text>
<text x="26" y="707" font-size="27" textLength="55" lengthAdjust="spacingAndGlyphs">Step</text>
<text x="108" y="707" font-size="27">3</text>
<text x="130" y="707" font-size="27">:</text>
<text x="145" y="707" font-size="27" textLength="634" lengthAdjust="spacingAndGlyphs">Prepare for a Test. Make sure the mouth piece side</text>
<text x="28" y="734" font-size="27" textLength="205" lengthAdjust="spacingAndGlyphs">faces the patient</text>
<text x="26" y="777" font-size="27" textLength="655" lengthAdjust="spacingAndGlyphs">Step 4–5: Turn on spirometer Take a Spirometry Test</text>

</svg>
</body></html>
